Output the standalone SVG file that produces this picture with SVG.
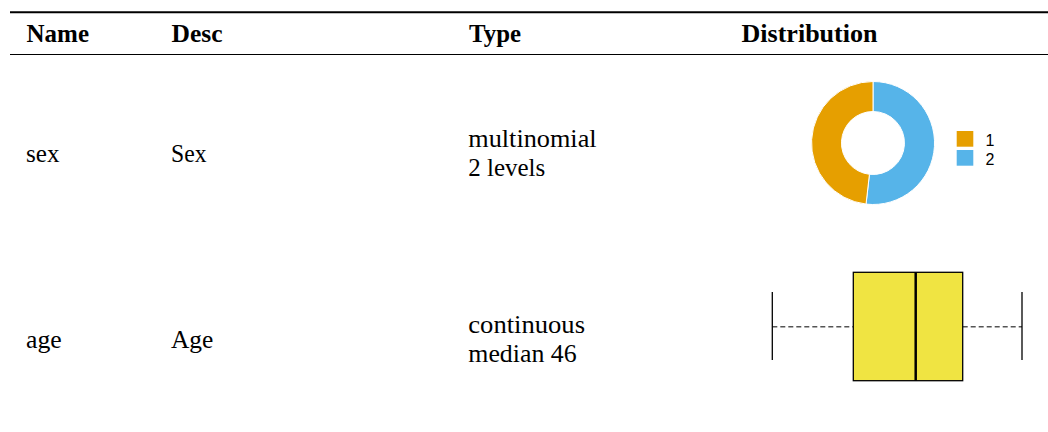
<svg xmlns="http://www.w3.org/2000/svg" width="1048" height="432" viewBox="0 0 1048 432">
<style>
.h{font-family:"Liberation Serif","Times New Roman",serif;font-size:25px;font-weight:bold;fill:#000}
.t{font-family:"Liberation Serif","Times New Roman",serif;font-size:25px;fill:#000}
.lg{font-family:"Liberation Sans",Arial,sans-serif;font-size:16px;fill:#000}
.rule{stroke:#000;fill:none}
.wh{stroke:#000;stroke-width:1.3;fill:none}
.dash{stroke:#555;stroke-width:1.4;stroke-dasharray:5 3;fill:none}
</style>
<rect width="1048" height="432" fill="#fff"/>
<g id="rules">
<line class="rule" x1="10" y1="12.3" x2="1048" y2="12.3" stroke-width="2"/>
<line class="rule" x1="10" y1="54.5" x2="1048" y2="54.5" stroke-width="1.2"/>
</g>
<g id="header">
<text class="h" x="26.5" y="41.5" textLength="62.5" lengthAdjust="spacingAndGlyphs">Name</text>
<text class="h" x="171.5" y="41.5" textLength="51" lengthAdjust="spacingAndGlyphs">Desc</text>
<text class="h" x="469" y="41.5" textLength="52" lengthAdjust="spacingAndGlyphs">Type</text>
<text class="h" x="741.5" y="41.5" textLength="136" lengthAdjust="spacingAndGlyphs">Distribution</text>
</g>
<g id="row-sex">
<text class="t" x="26" y="161.7" textLength="33.5" lengthAdjust="spacingAndGlyphs">sex</text>
<text class="t" x="171" y="161.7" textLength="35.5" lengthAdjust="spacingAndGlyphs">Sex</text>
<text class="t" x="468.3" y="146.7" textLength="128.3" lengthAdjust="spacingAndGlyphs">multinomial</text>
<text class="t" x="468.3" y="175.7" textLength="77" lengthAdjust="spacingAndGlyphs">2 levels</text>
</g>
<g id="donut-sex">
<path d="M 873 81.5 A 61.5 61.5 0 1 1 866.04 204.1 L 869.43 174.3 A 31.5 31.5 0 1 0 873 111.5 Z" fill="#56B4E9" stroke="#fff" stroke-width="1"/>
<path d="M 866.04 204.1 A 61.5 61.5 0 0 1 873 81.5 L 873 111.5 A 31.5 31.5 0 0 0 869.43 174.3 Z" fill="#E69F00" stroke="#fff" stroke-width="1"/>
</g>
<g id="legend-sex">
<rect x="956.7" y="131" width="16.6" height="15.7" fill="#E69F00"/>
<rect x="956.7" y="150" width="16.6" height="15.7" fill="#56B4E9"/>
<text class="lg" x="985.5" y="146.3">1</text>
<text class="lg" x="985.5" y="164.5">2</text>
</g>
<g id="row-age">
<text class="t" x="26" y="348.3" textLength="35.7" lengthAdjust="spacingAndGlyphs">age</text>
<text class="t" x="171" y="348.3" textLength="42.3" lengthAdjust="spacingAndGlyphs">Age</text>
<text class="t" x="468.3" y="332.7" textLength="116.7" lengthAdjust="spacingAndGlyphs">continuous</text>
<text class="t" x="468.3" y="361.7" textLength="108.4" lengthAdjust="spacingAndGlyphs">median 46</text>
</g>
<g id="boxplot-age">
<line class="dash" x1="772.3" y1="326.7" x2="853.3" y2="326.7"/>
<line class="dash" x1="962.7" y1="326.7" x2="1022" y2="326.7"/>
<line class="wh" x1="772.3" y1="292" x2="772.3" y2="360"/>
<line class="wh" x1="1022" y1="292" x2="1022" y2="360"/>
<rect x="853.3" y="272.3" width="109.4" height="108.4" fill="#F0E442" stroke="#000" stroke-width="1.3"/>
<line x1="915.7" y1="272.3" x2="915.7" y2="380.7" stroke="#000" stroke-width="2.5"/>
</g>
</svg>
